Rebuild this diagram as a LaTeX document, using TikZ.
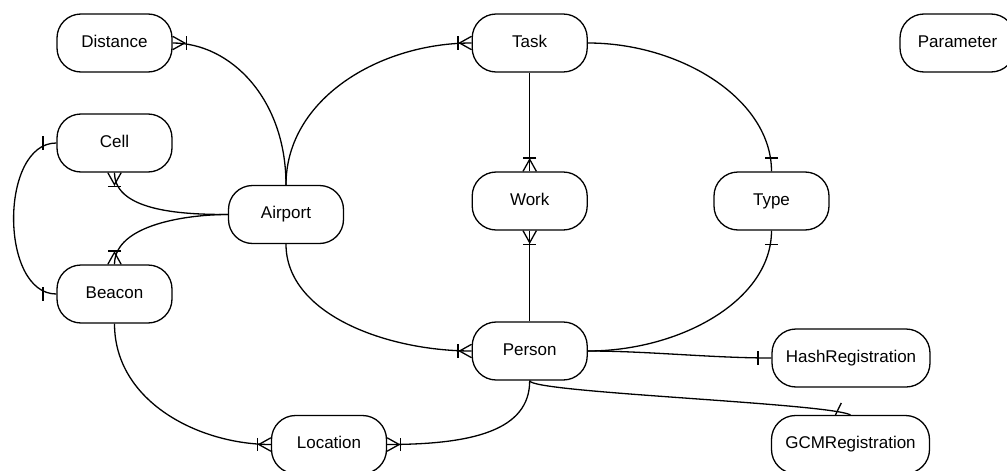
\documentclass[tikz,border=0pt]{standalone}
\usepackage{fontspec}
\setmainfont{Liberation Sans}
\tikzset{
  ent/.style={draw, fill=white, line width=1.3pt, rounded corners=24pt,
    minimum width=115pt, minimum height=58pt, inner sep=0pt,
    text height=12pt, text depth=3.5pt,
    font=\fontsize{17}{20}\selectfont},
  wide/.style={minimum width=158pt},
  conn/.style={line width=1.3pt},
}
\newcommand\onemany[2]{%
  \begin{scope}[shift={(#1)}, rotate=#2]
    \draw[conn] (13.5,-6.7) -- (13.5,6.7);
    \draw[conn] (0,-6.7) -- (12,0) -- (0,6.7);
  \end{scope}}
\newcommand\onebar[2]{%
  \begin{scope}[shift={(#1)}, rotate=#2]
    \draw[conn] (13.5,-6.7) -- (13.5,6.7);
  \end{scope}}
\begin{document}
\begin{tikzpicture}[x=1pt,y=1pt]
\useasboundingbox (0,0) rectangle (1007,-471);
\clip (0,0) rectangle (1007,-471);
\fill[white] (0,0) rectangle (1007,-471);

% entities
\node[ent] (dist)    at (114.5,-43)   {Distance};
\node[ent] (cell)    at (114.5,-143)  {Cell};
\node[ent] (beacon)  at (114.5,-294)  {Beacon};
\node[ent] (airport) at (286,-214.5)  {Airport};
\node[ent] (task)    at (529.7,-43)   {Task};
\node[ent] (work)    at (529.7,-201)  {Work};
\node[ent] (typ)     at (771.5,-201)  {Type};
\node[ent] (param)   at (957.5,-43)   {Parameter};
\node[ent] (person)  at (529.7,-351)  {Person};
\node[ent] (loc)     at (329,-444.5)  {Location};
\node[ent,wide] (hash) at (851,-358)  {HashRegistration};
\node[ent,wide] (gcm)  at (850.5,-444.5) {GCMRegistration};

% connectors
\draw[conn] (airport.north) .. controls +(0,86) and +(58,0) .. (dist.east);
\onemany{dist.east}{0}
\draw[conn] (airport.north) .. controls +(0,86) and +(-92,0) .. (task.west);
\onemany{task.west}{180}
\draw[conn] (airport.west) .. controls +(-40,0) and +(0,-40) .. (cell.south);
\onemany{cell.south}{270}
\draw[conn] (airport.west) .. controls +(-40,0) and +(0,40) .. (beacon.north);
\onemany{beacon.north}{90}
\draw[conn] (cell.west) .. controls +(-57,0) and +(-57,0) .. (beacon.west);
\onebar{cell.west}{180}
\onebar{beacon.west}{180}
\draw[conn] (task.east) .. controls +(93,0) and +(0,72) .. (typ.north);
\onebar{typ.north}{90}
\draw[conn] (typ.south) .. controls +(0,-70) and +(92,0) .. (person.east);
\onebar{typ.south}{270}
\draw[conn] (person.east) .. controls +(60,0) and +(-60,0) .. (hash.west);
\onebar{hash.west}{180}
\draw[conn] (person.south) .. controls +(0,-12) and +(-25,12) .. (gcm.north);
\onebar{gcm.north}{154}
\draw[conn] (task.south) -- (work.north);
\onemany{work.north}{90}
\draw[conn] (work.south) -- (person.north);
\onemany{work.south}{270}
\draw[conn] (airport.south) .. controls +(0,-70) and +(-85,0) .. (person.west);
\onemany{person.west}{180}
\draw[conn] (beacon.south) .. controls +(0,-78) and +(-72,0) .. (loc.west);
\onemany{loc.west}{180}
\draw[conn] (person.south) .. controls +(0,-50) and +(85,0) .. (loc.east);
\onemany{loc.east}{0}
\end{tikzpicture}
\end{document}
